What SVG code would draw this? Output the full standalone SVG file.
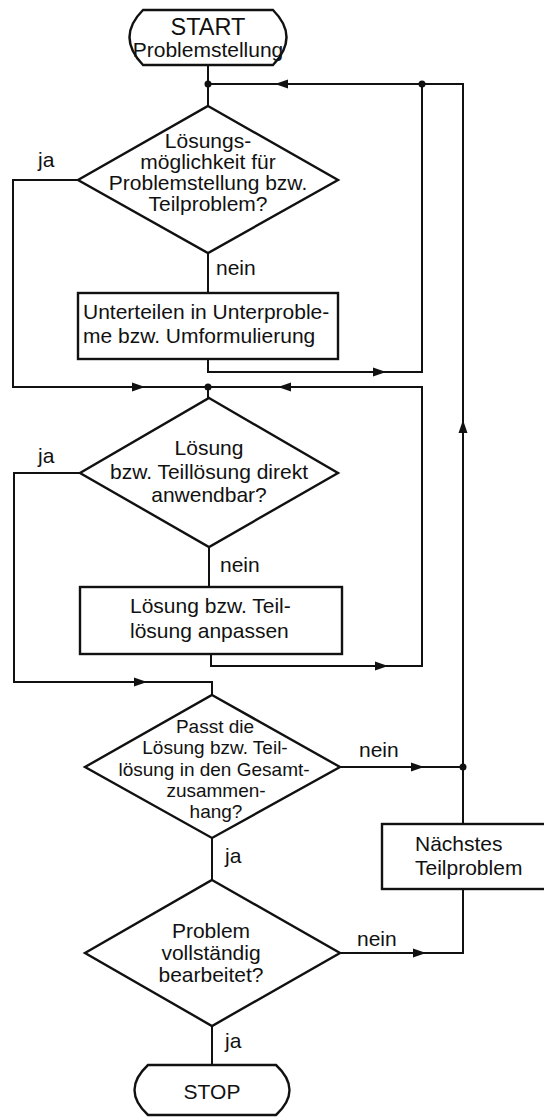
<svg xmlns="http://www.w3.org/2000/svg" width="544" height="1117" viewBox="0 0 544 1117">
<style>
  .shape{fill:#fff;stroke:#111;stroke-width:2.4;stroke-linejoin:miter}
  .line{fill:none;stroke:#111;stroke-width:2}
  text{font-family:"Liberation Sans",Arial,sans-serif;font-size:21px;fill:#111}
  .c{text-anchor:middle}
  .big{font-size:23.5px}
  .sm{font-size:19px}
  .dot{fill:#111}
</style>
<defs>
  <path id="ah" d="M0,0 L-13,-4.5 L-13,4.5 Z" fill="#111"/>
</defs>
<rect width="544" height="1117" fill="#fff"/>

<g id="connectors">
  <polyline class="line" points="208,65 208,106"/>
  <polyline class="line" points="208,84 463,84 463,824"/>
  <polyline class="line" points="422,84 422,372 208,372 208,359"/>
  <polyline class="line" points="78,180 13,180 13,387 208,387"/>
  <polyline class="line" points="208,253 208,293"/>
  <polyline class="line" points="208,398 208,387 422,387 422,666 211,666 211,654"/>
  <polyline class="line" points="80,473 14,473 14,682 212,682 212,695"/>
  <polyline class="line" points="209,547 209,587"/>
  <polyline class="line" points="340,767 463,767"/>
  <polyline class="line" points="212,838 212,880"/>
  <polyline class="line" points="340,953 463,953 463,889"/>
  <polyline class="line" points="212,1026 212,1065"/>
  <circle class="dot" cx="208" cy="84" r="3.5"/>
  <circle class="dot" cx="422" cy="84" r="3.5"/>
  <circle class="dot" cx="208" cy="387" r="3.5"/>
  <circle class="dot" cx="463" cy="767" r="3.5"/>
  <use href="#ah" transform="translate(275,84) rotate(180)"/>
  <use href="#ah" transform="translate(386,372)"/>
  <use href="#ah" transform="translate(145,387)"/>
  <use href="#ah" transform="translate(278,387) rotate(180)"/>
  <use href="#ah" transform="translate(147,682)"/>
  <use href="#ah" transform="translate(388,666)"/>
  <use href="#ah" transform="translate(424,767)"/>
  <use href="#ah" transform="translate(463,420) rotate(-90)"/>
  <use href="#ah" transform="translate(426,953)"/>
  <text x="38" y="167">ja</text>
  <text x="216" y="275">nein</text>
  <text x="38" y="463">ja</text>
  <text x="220" y="572">nein</text>
  <text x="359" y="757">nein</text>
  <text x="225" y="863">ja</text>
  <text x="357" y="946">nein</text>
  <text x="225" y="1048">ja</text>
</g>

<g id="start">
  <path class="shape" d="M143,10 L273,10 Q300,37 273,65 L143,65 Q116,37 143,10 Z"/>
  <text class="c big" x="208" y="35">START</text>
  <text class="c" x="208" y="57">Problemstellung</text>
</g>

<g id="d1">
  <polygon class="shape" points="208,106 338,180 208,253 78,180"/>
  <text class="c" x="208" y="148">Lösungs-</text>
  <text class="c" x="208" y="169">möglichkeit für</text>
  <text class="c" x="208" y="190">Problemstellung bzw.</text>
  <text class="c" x="208" y="211">Teilproblem?</text>
</g>

<g id="b1">
  <rect class="shape" x="78" y="293" width="260" height="66"/>
  <text x="83" y="319">Unterteilen in Unterproble-</text>
  <text x="83" y="343">me bzw. Umformulierung</text>
</g>

<g id="d2">
  <polygon class="shape" points="209,398 338,473 209,547 80,473"/>
  <text class="c" x="209" y="455">Lösung</text>
  <text class="c" x="209" y="479">bzw. Teillösung direkt</text>
  <text class="c" x="209" y="502">anwendbar?</text>
</g>

<g id="b2">
  <rect class="shape" x="80" y="587" width="262" height="67"/>
  <text x="130" y="613">Lösung bzw. Teil-</text>
  <text x="130" y="638">lösung anpassen</text>
</g>

<g id="d3">
  <polygon class="shape" points="212,695 340,767 212,838 85,767"/>
  <text class="c sm" x="215" y="733">Passt die</text>
  <text class="c sm" x="215" y="754.3">Lösung bzw. Teil-</text>
  <text class="c sm" x="214" y="775.6">lösung in den Gesamt-</text>
  <text class="c sm" x="216" y="796.9">zusammen-</text>
  <text class="c sm" x="216" y="818.2">hang?</text>
</g>

<g id="b3">
  <rect class="shape" x="382" y="824" width="170" height="65"/>
  <text x="415" y="851">Nächstes</text>
  <text x="415" y="875">Teilproblem</text>
</g>

<g id="d4">
  <polygon class="shape" points="212,880 340,953 212,1026 85,953"/>
  <text class="c" x="211" y="938">Problem</text>
  <text class="c" x="211" y="960">vollständig</text>
  <text class="c" x="211" y="982">bearbeitet?</text>
</g>

<g id="stop">
  <path class="shape" d="M148,1065 L276,1065 Q303,1090 276,1115 L148,1115 Q121,1090 148,1065 Z"/>
  <text class="c" x="212" y="1099">STOP</text>
</g>
</svg>
